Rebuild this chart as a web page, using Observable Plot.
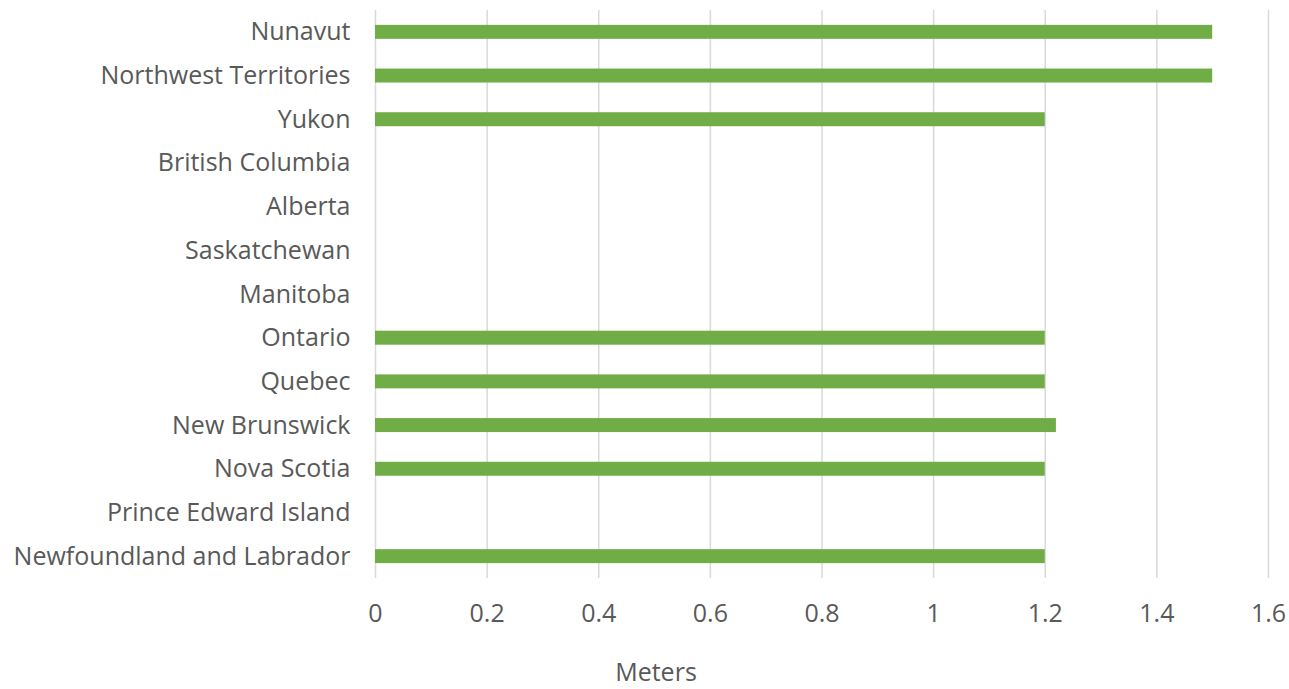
<!DOCTYPE html>
<html>
<head>
<meta charset="utf-8">
<script src="https://cdn.jsdelivr.net/npm/d3@7"></script>
<script src="https://cdn.jsdelivr.net/npm/@observablehq/plot@0.6"></script>
<style>
  html, body { margin: 0; padding: 0; background: #fff; }
  #wrap { position: relative; width: 1289px; height: 689px; }
  #chart svg { display: block; }
  #xlabel { position: absolute; left: 0; width: 1312px; top: 654px; text-align: center;
            font-family: 'Open Sans', sans-serif; font-size: 25px; color: #595959; line-height: 34px; }
</style>
</head>
<body>
<div id="wrap">
  <div id="chart"></div>
  <div id="xlabel"></div>
</div>
<script>
const provinces = [
  "Nunavut",
  "Northwest Territories",
  "Yukon",
  "British Columbia",
  "Alberta",
  "Saskatchewan",
  "Manitoba",
  "Ontario",
  "Quebec",
  "New Brunswick",
  "Nova Scotia",
  "Prince Edward Island",
  "Newfoundland and Labrador"
];
const meters = [1.5, 1.5, 1.2, 0, 0, 0, 0, 1.2, 1.2, 1.22, 1.2, 0, 1.2];
const xTicks = [0, 0.2, 0.4, 0.6, 0.8, 1, 1.2, 1.4, 1.6];
const xLabel = "Meters";

const data = provinces.map((p, i) => ({province: p, value: meters[i]}));

const chart = Plot.plot({
  width: 1289,
  height: 689,
  marginTop: 10,
  marginBottom: 111,
  marginLeft: 375,
  marginRight: 21,
  style: {fontFamily: "'Open Sans', sans-serif", fontSize: "25px", color: "#595959", background: "#fff"},
  x: {domain: [0, 1.6], ticks: xTicks, tickFormat: d => String(d), tickSize: 0, tickPadding: 26, label: null},
  y: {domain: provinces, paddingInner: 0.68, paddingOuter: 0.34, round: false, tickSize: 0, tickPadding: 25, label: null},
  marks: [
    Plot.ruleX(xTicks, {stroke: "#d9d9d9", strokeWidth: 1.5}),
    Plot.barX(data, {x: "value", y: "province", fill: "#70ad47"})
  ]
});
document.getElementById("chart").appendChild(chart);
document.getElementById("xlabel").textContent = xLabel;
</script>
</body>
</html>
